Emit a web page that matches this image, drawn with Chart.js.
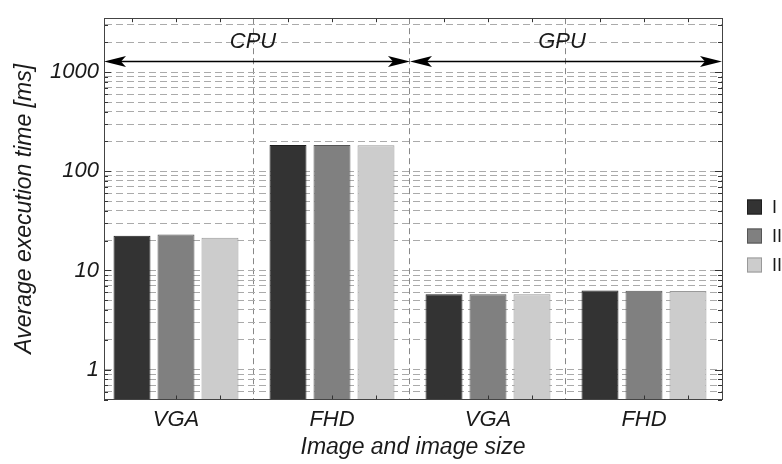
<!DOCTYPE html>
<html>
<head>
<meta charset="utf-8">
<script src="https://cdn.jsdelivr.net/npm/chart.js@4.4.1/dist/chart.umd.min.js"></script>
<style>
  html, body { margin: 0; padding: 0; background: #fff; }
  #caixa { width: 782px; height: 464px; }
</style>
</head>
<body>
<div id="caixa"><canvas id="grafico" width="782" height="464"></canvas></div>
<script>
const categorias = ['VGA', 'FHD', 'VGA', 'FHD'];
const grupos = ['CPU', 'GPU'];
const serieI = [22.4, 184, 5.75, 6.3];
const serieII = [23.0, 184, 5.75, 6.25];
const serieIII = [21.4, 183, 5.75, 6.2];
const nomes = ['I', 'II', 'II'];
const yRotulos = [1, 10, 100, 1000];

// linhas de grade: 0.5 ... 3000
const gradeY = [0.5, 0.6, 0.7, 0.8, 0.9];
for (const d of [1, 10, 100, 1000]) {
  for (let k = 1; k <= 9; k++) {
    if (d * k <= 3000) gradeY.push(d * k);
  }
}

const fonte = 'Liberation Sans, Arial, sans-serif';
const corTexto = '#1a1a1a';

// molduras, setas, marcas e legenda
const extras = {
  id: 'extras',
  afterDatasetsDraw(chart) {
    const { ctx, chartArea: a, scales: { x, y } } = chart;
    ctx.save();

    // marcas nas barras (topo e base)
    ctx.strokeStyle = '#333';
    ctx.lineWidth = 1;
    chart.data.datasets.forEach((ds, i) => {
      chart.getDatasetMeta(i).data.forEach(el => {
        const px = Math.round(el.x) + 0.5;
        ctx.beginPath();
        ctx.moveTo(px, a.top); ctx.lineTo(px, a.top + 4);
        ctx.moveTo(px, a.bottom); ctx.lineTo(px, a.bottom - 4);
        ctx.stroke();
      });
    });

    // marcas no eixo y (esquerda e direita)
    gradeY.forEach(v => {
      const py = Math.round(y.getPixelForValue(v)) + 0.5;
      const len = yRotulos.includes(v) ? 7 : 4;
      ctx.beginPath();
      ctx.moveTo(a.left, py); ctx.lineTo(a.left + len, py);
      ctx.moveTo(a.right, py); ctx.lineTo(a.right - len, py);
      ctx.stroke();
    });

    // moldura
    ctx.strokeStyle = '#444';
    ctx.strokeRect(Math.round(a.left) + 0.5, Math.round(a.top) + 0.5,
      Math.round(a.right - a.left), Math.round(a.bottom - a.top));

    // setas CPU / GPU
    const ySeta = Math.round(y.getPixelForValue(1300)) + 0.5;
    const yTexto = y.getPixelForValue(2000);
    const limites = [[x.min, 1.5], [1.5, x.max]];
    const ponta = (tx, dir) => {
      ctx.beginPath();
      ctx.moveTo(tx, ySeta);
      ctx.lineTo(tx + dir * 22, ySeta - 5.5);
      ctx.lineTo(tx + dir * 17, ySeta);
      ctx.lineTo(tx + dir * 22, ySeta + 5.5);
      ctx.closePath();
      ctx.fill();
    };
    ctx.fillStyle = '#000';
    ctx.strokeStyle = '#000';
    ctx.lineWidth = 1.3;
    limites.forEach(([v0, v1], i) => {
      const x0 = x.getPixelForValue(v0);
      const x1 = x.getPixelForValue(v1);
      ctx.beginPath();
      ctx.moveTo(x0 + 10, ySeta); ctx.lineTo(x1 - 10, ySeta);
      ctx.stroke();
      ponta(x0, 1);
      ponta(x1, -1);
      ctx.fillStyle = corTexto;
      ctx.font = 'italic 22px ' + fonte;
      ctx.textAlign = 'center';
      ctx.textBaseline = 'middle';
      ctx.fillText(grupos[i], (x0 + x1) / 2 - 4, yTexto);
      ctx.fillStyle = '#000';
    });

    // legenda
    ctx.lineWidth = 1;
    ctx.font = '18px ' + fonte;
    ctx.textAlign = 'left';
    ctx.textBaseline = 'middle';
    chart.data.datasets.forEach((ds, i) => {
      const cy = 207 + i * 29;
      ctx.fillStyle = ds.backgroundColor;
      ctx.fillRect(747, cy - 7.5, 15, 15);
      ctx.strokeStyle = ds.borderColor;
      ctx.strokeRect(747.5, cy - 7, 14, 14);
      ctx.fillStyle = corTexto;
      ctx.fillText(ds.label, 772, cy + 1);
    });
    ctx.restore();
  }
};

new Chart(document.getElementById('grafico'), {
  type: 'bar',
  data: {
    datasets: [
      { label: nomes[0], data: serieI.map((v, i) => ({ x: i, y: v })), backgroundColor: '#333333', borderColor: '#1e1e1e' },
      { label: nomes[1], data: serieII.map((v, i) => ({ x: i, y: v })), backgroundColor: '#808080', borderColor: '#555555' },
      { label: nomes[2], data: serieIII.map((v, i) => ({ x: i, y: v })), backgroundColor: '#cccccc', borderColor: '#999999' }
    ]
  },
  options: {
    responsive: false,
    animation: false,
    devicePixelRatio: 1,
    layout: { padding: { top: 13.5, right: 60, left: 0, bottom: 0 } },
    datasets: {
      bar: { borderWidth: 1, categoryPercentage: 0.846, barPercentage: 0.84 }
    },
    scales: {
      x: {
        type: 'linear',
        offset: false,
        min: -0.4615,
        max: 3.5,
        afterBuildTicks: s => { s.ticks = [0, 1, 2, 3].map(v => ({ value: v })); },
        afterFit: s => { s.height = 64.5; },
        ticks: {
          autoSkip: false,
          maxRotation: 0,
          padding: 7,
          color: corTexto,
          font: { family: fonte, size: 22, style: 'italic' },
          callback: v => categorias[v]
        },
        grid: { drawTicks: false, offset: true, color: '#888', lineWidth: 1 },
        border: { color: '#444', dash: [6, 4] },
        title: {
          display: true,
          text: 'Image and image size',
          color: corTexto,
          font: { family: fonte, size: 23, style: 'italic' },
          padding: { top: 0, bottom: 3 }
        }
      },
      y: {
        type: 'logarithmic',
        min: 0.5,
        max: 3500,
        afterBuildTicks: s => { s.ticks = gradeY.map(v => ({ value: v })); },
        afterFit: s => { s.width = 104; },
        ticks: {
          autoSkip: false,
          padding: 5,
          color: corTexto,
          font: { family: fonte, size: 22, style: 'italic' },
          callback: v => yRotulos.includes(v) ? String(v) : ''
        },
        grid: { drawTicks: false, color: '#aaa', lineWidth: 1 },
        border: { color: '#444', dash: [7, 4] },
        title: {
          display: true,
          text: 'Average execution time [ms]',
          color: corTexto,
          font: { family: fonte, size: 23, style: 'italic' },
          padding: { top: 11, bottom: 0 }
        }
      }
    },
    plugins: {
      legend: { display: false },
      tooltip: { enabled: false }
    }
  },
  plugins: [extras]
});
</script>
</body>
</html>
